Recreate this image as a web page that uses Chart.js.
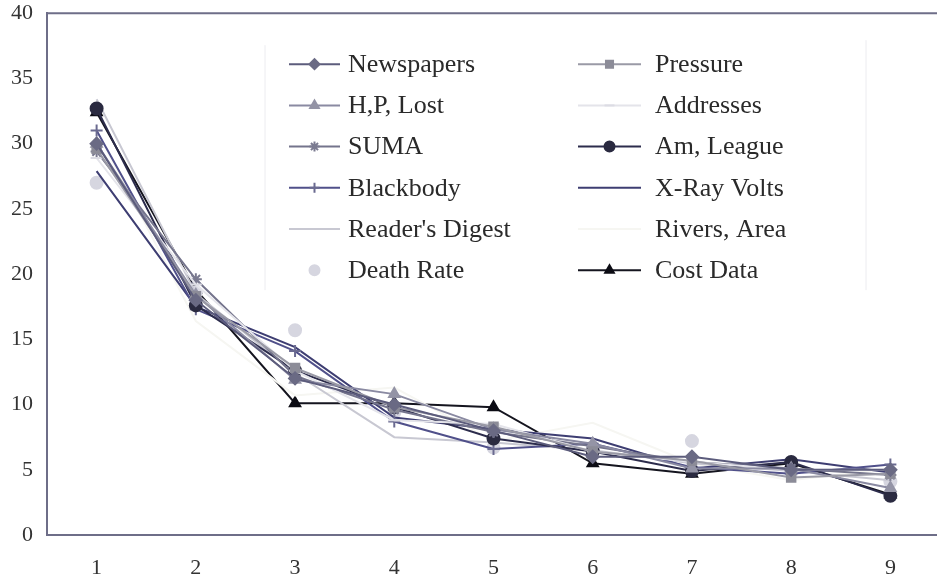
<!DOCTYPE html>
<html>
<head>
<meta charset="utf-8">
<script src="https://cdn.jsdelivr.net/npm/chart.js@4/dist/chart.umd.min.js"></script>
<style>
  html, body { margin: 0; background: #fff; overflow: hidden; }
  /* plot frame sits tight to the top and runs past the right edge, as in the source */
  #benford { display: block; margin-top: -14px; }
</style>
</head>
<body>
<canvas id="benford" width="948" height="596"></canvas>
<script>
// first digit frequencies (%)
var digits = ['1', '2', '3', '4', '5', '6', '7', '8', '9'];

var newspapers   = [30.0, 18.0, 12.0, 10.0, 8.0, 6.0, 6.0, 5.0, 5.0];
var pressure     = [29.6, 18.3, 12.8, 9.8, 8.3, 6.4, 5.7, 4.4, 4.7];
var hpLost       = [30.0, 18.4, 11.9, 10.8, 8.1, 7.0, 5.1, 5.1, 3.6];
var addresses    = [28.9, 19.2, 12.6, 8.8, 8.5, 6.4, 5.6, 5.0, 5.0];
var suma         = [29.4, 19.6, 12.2, 9.6, 7.9, 6.8, 5.6, 5.1, 4.6];
var amLeague     = [32.7, 17.6, 12.6, 9.8, 7.4, 6.4, 4.9, 5.6, 3.0];
var blackbody    = [31.0, 17.3, 14.1, 8.7, 6.6, 7.0, 5.2, 4.7, 5.4];
var xrayVolts    = [27.9, 17.5, 14.4, 9.0, 8.1, 7.4, 5.1, 5.8, 4.8];
var readersDig   = [33.4, 18.5, 12.4, 7.5, 7.1, 6.5, 5.5, 4.9, 4.2];
var riversArea   = [31.0, 16.4, 10.7, 11.3, 7.2, 8.6, 5.5, 4.2, 5.1];
var deathRate    = [27.0, 18.6, 15.7, 9.4, 6.7, 6.5, 7.2, 4.8, 4.1];
var costData     = [32.4, 18.8, 10.1, 10.1, 9.8, 5.5, 4.7, 5.5, 3.1];

var yTicks = { min: 0, max: 40, step: 5 };

function serie(label, data, line, mark, style, showLine) {
    return {
        label: label,
        data: data,
        borderColor: line,
        backgroundColor: mark,
        pointBackgroundColor: mark,
        pointBorderColor: mark,
        pointStyle: style,
        pointRadius: style ? 6 : 0,
        borderWidth: 2,
        showLine: showLine,
        tension: 0
    };
}

var datasets = [
    serie('Newspapers', newspapers, '#5c5c7c', '#6a6a84', 'rectRot', true),
    serie('Pressure', pressure, '#9a9aa6', '#8c8c98', 'rect', true),
    serie('H,P, Lost', hpLost, '#8a8aa2', '#9494a6', 'triangle', true),
    serie('Addresses', addresses, '#e4e4ea', '#dcdce4', 'line', true),
    serie('SUMA', suma, '#74748c', '#7a7a90', 'star', true),
    serie('Am, League', amLeague, '#2c2c4c', '#2a2a40', 'circle', true),
    serie('Blackbody', blackbody, '#50508a', '#6a6a90', 'cross', true),
    serie('X-Ray Volts', xrayVolts, '#3e3e72', '#3e3e72', false, true),
    serie("Reader's Digest", readersDig, '#c8c8d2', '#c8c8d2', false, true),
    serie('Rivers, Area', riversArea, '#f6f6f2', '#f6f6f2', false, true),
    serie('Death Rate', deathRate, '#dadae2', '#d6d6e0', 'circle', false),
    serie('Cost Data', costData, '#15151f', '#0c0c14', 'triangle', true)
];

// legend drawn inside the plot, two columns (positions from the plot top)
var legendBox = {
    id: 'legendBox',
    afterDraw: function(chart) {
        var ctx = chart.ctx;
        var a = chart.chartArea;
        var top = a.top;
        ctx.save();
        // top frame line
        ctx.strokeStyle = '#6e6e88';
        ctx.lineWidth = 2;
        ctx.beginPath();
        ctx.moveTo(a.left, a.top);
        ctx.lineTo(a.right, a.top);
        ctx.stroke();
        // faint legend box edges
        ctx.strokeStyle = '#ececf0';
        ctx.lineWidth = 1;
        ctx.beginPath();
        ctx.moveTo(265, top + 32); ctx.lineTo(265, top + 277);
        ctx.moveTo(866, top + 27); ctx.lineTo(866, top + 277);
        ctx.stroke();

        var cols = [{ x0: 289, x1: 340, tx: 348 }, { x0: 578, x1: 641, tx: 655 }];
        ctx.font = '26px "Liberation Serif", "Times New Roman", serif';
        ctx.textBaseline = 'middle';
        chart.data.datasets.forEach(function(ds, i) {
            var c = cols[i % 2];
            var y = top + 51 + Math.floor(i / 2) * 41.2;
            if (ds.showLine) {
                ctx.strokeStyle = ds.borderColor;
                ctx.lineWidth = 2;
                ctx.beginPath();
                ctx.moveTo(c.x0, y);
                ctx.lineTo(c.x1, y);
                ctx.stroke();
            }
            if (ds.pointStyle) {
                ctx.fillStyle = ds.pointBackgroundColor;
                ctx.strokeStyle = ds.pointBorderColor;
                Chart.helpers.drawPoint(ctx, {
                    pointStyle: ds.pointStyle, radius: 5, rotation: 0, borderWidth: 2
                }, (c.x0 + c.x1) / 2, y);
            }
            ctx.fillStyle = '#2a2a2a';
            ctx.fillText(ds.label, c.tx, y + 1);
        });
        ctx.restore();
    }
};

var tickFont = { family: '"Liberation Serif", "Times New Roman", serif', size: 22 };

new Chart(document.getElementById('benford'), {
    type: 'line',
    data: { labels: digits, datasets: datasets },
    options: {
        responsive: false,
        animation: false,
        layout: { padding: 0 },
        plugins: { legend: { display: false }, tooltip: { enabled: false } },
        scales: {
            x: {
                offset: true,
                grid: { display: false, drawTicks: false },
                border: { display: true, color: '#6e6e88', width: 2 },
                ticks: { font: tickFont, color: '#333', padding: 20 },
                afterFit: function(s) { s.height = 47; }
            },
            y: {
                min: yTicks.min,
                max: yTicks.max,
                grid: { display: false, drawTicks: false },
                border: { display: true, color: '#6e6e88', width: 2 },
                ticks: { stepSize: yTicks.step, font: tickFont, color: '#333', padding: 14 },
                afterFit: function(s) { s.width = 47; }
            }
        }
    },
    plugins: [legendBox]
});
</script>
</body>
</html>
